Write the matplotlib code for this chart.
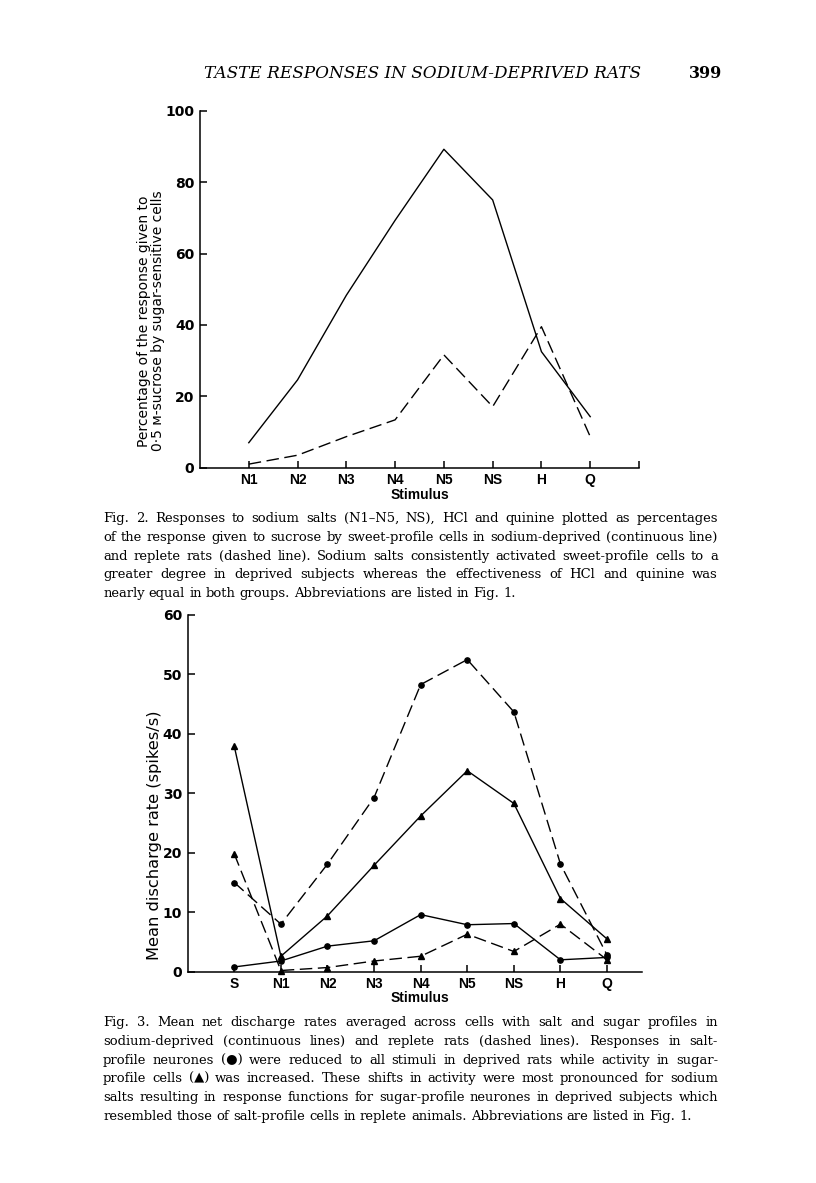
import matplotlib
matplotlib.use("Agg")
import matplotlib.pyplot as plt

# Fig. 2 values (percent of sucrose response, sweet-profile cells)
fig2_stimuli = ["N1", "N2", "N3", "N4", "N5", "NS", "H", "Q"]
fig2_deprived = [7.0, 24.6, 48.3, 69.3, 89.2, 75.0, 32.5, 14.3]
fig2_replete = [1.0, 3.5, 8.7, 13.4, 31.6, 17.1, 39.5, 8.7]

# Fig. 3 values (mean discharge rate, spikes/s)
fig3_stimuli = ["S", "N1", "N2", "N3", "N4", "N5", "NS", "H", "Q"]
salt_deprived = [0.8, 1.8, 4.3, 5.2, 9.6, 7.9, 8.1, 2.0, 2.4]
salt_replete = [15.0, 8.0, 18.1, 29.3, 48.3, 52.5, 43.7, 18.1, 2.8]
sugar_deprived = [37.9, 2.6, 9.4, 17.9, 26.2, 33.8, 28.3, 12.3, 5.5]
sugar_replete = [19.8, 0.2, 0.7, 1.8, 2.6, 6.3, 3.4, 8.0, 2.0]

header = "TASTE RESPONSES IN SODIUM-DEPRIVED RATS"
page_no = "399"

caption2 = [
    "Fig. 2. Responses to sodium salts (N1\u2013N5, NS), HCl and quinine plotted as percentages",
    "of the response given to sucrose by sweet-profile cells in sodium-deprived (continuous line)",
    "and replete rats (dashed line). Sodium salts consistently activated sweet-profile cells to a",
    "greater degree in deprived subjects whereas the effectiveness of HCl and quinine was",
    "nearly equal in both groups. Abbreviations are listed in Fig. 1.",
]
caption3 = [
    "Fig. 3. Mean net discharge rates averaged across cells with salt and sugar profiles in",
    "sodium-deprived (continuous lines) and replete rats (dashed lines). Responses in salt-",
    "profile neurones (\u25cf) were reduced to all stimuli in deprived rats while activity in sugar-",
    "profile cells (\u25b2) was increased. These shifts in activity were most pronounced for sodium",
    "salts resulting in response functions for sugar-profile neurones in deprived subjects which",
    "resembled those of salt-profile cells in replete animals. Abbreviations are listed in Fig. 1.",
]

W, H = 816, 1183
SANS = ["Liberation Sans", "DejaVu Sans"]
WIDE = ["DejaVu Sans"]
SERIF = ["DejaVu Serif"]
DASH = (0, (9, 4))

fig = plt.figure(figsize=(W / 100, H / 100), dpi=100)
fig.patch.set_facecolor("white")
renderer = fig.canvas.get_renderer()


def px_axes(left, top, right, bottom):
    return fig.add_axes([left / W, 1 - bottom / H, (right - left) / W, (bottom - top) / H])


def text_len(t):
    bb = t.get_window_extent(renderer)
    return max(bb.width, bb.height)


def fit(t, target):
    # rescale font so the text's long side spans target pixels
    t.set_fontsize(t.get_fontsize() * target / text_len(t))
    return t


def style_axes(ax):
    for s in ("top", "right"):
        ax.spines[s].set_visible(False)
    for s in ("left", "bottom"):
        ax.spines[s].set_linewidth(1.1)
    ax.tick_params(direction="in", length=5, width=1.1, pad=4, colors="black")
    for lab in ax.get_xticklabels():
        lab.set_fontfamily(SANS)
        lab.set_fontsize(10)
        lab.set_fontweight("bold")
    for lab in ax.get_yticklabels():
        lab.set_fontfamily(WIDE)
        lab.set_fontsize(10)
        lab.set_fontweight("bold")


def caption_size(lines, width, base=10):
    widest = 0
    for line in lines:
        t = fig.text(0, 0, line, fontsize=base, family=SERIF)
        widest = max(widest, t.get_window_extent(renderer).width)
        t.remove()
    return base * width / widest


def justified(lines, x0, x1, y0, step, size):
    a1 = fig.text(0, 0, "a a", fontsize=size, family=SERIF)
    a2 = fig.text(0, 0, "aa", fontsize=size, family=SERIF)
    space = a1.get_window_extent(renderer).width - a2.get_window_extent(renderer).width
    a1.remove()
    a2.remove()
    for i, line in enumerate(lines):
        y = 1 - (y0 + i * step) / H
        words = line.split(" ")
        texts = [fig.text(0, y, w, fontsize=size, family=SERIF, va="baseline") for w in words]
        widths = [t.get_window_extent(renderer).width for t in texts]
        if i < len(lines) - 1:
            gap = (x1 - x0 - sum(widths)) / (len(words) - 1)
        else:
            gap = space
        x = x0
        for t, w in zip(texts, widths):
            t.set_x(x / W)
            x += w + gap


# ---- Fig. 2 ----
ax2 = px_axes(200, 110.7, 639, 467.7)
x2 = list(range(1, len(fig2_stimuli) + 1))
ax2.plot(x2, fig2_deprived, color="black", lw=1.0, clip_on=False)
ax2.plot(x2, fig2_replete, color="black", lw=1.0, ls=DASH, clip_on=False)
ax2.set_xlim(0, 9)
ax2.set_ylim(0, 100)
ax2.set_xticks(x2 + [9])
ax2.set_xticklabels(fig2_stimuli + [""])
ax2.set_yticks([0, 20, 40, 60, 80, 100])
style_axes(ax2)
fig.text(420 / W, 1 - 495 / H, "Stimulus", ha="center", va="center",
         fontsize=10, family=SANS, fontweight="bold")
lab2 = fig.text(151 / W, 1 - 321 / H,
                "Percentage of the response given to\n0\u00b75 \u1d0d-sucrose by sugar-sensitive cells",
                rotation=90, ha="center", va="center", ma="center", linespacing=0.95,
                fontsize=9, family=WIDE)
fit(lab2, 262)

# ---- Fig. 3 ----
ax3 = px_axes(187.7, 615, 642, 971.7)
x3 = list(range(1, len(fig3_stimuli) + 1))
ms = 3.8
ax3.plot(x3, salt_replete, color="black", lw=1.0, ls=DASH, marker="o", ms=ms, clip_on=False)
ax3.plot(x3, sugar_replete, color="black", lw=1.0, ls=DASH, marker="^", ms=ms, clip_on=False)
ax3.plot(x3, sugar_deprived, color="black", lw=1.0, marker="^", ms=ms, clip_on=False)
ax3.plot(x3, salt_deprived, color="black", lw=1.0, marker="o", ms=ms, clip_on=False)
ax3.set_xlim(0, 9.75)
ax3.set_ylim(0, 60)
ax3.set_xticks(x3)
ax3.set_xticklabels(fig3_stimuli)
ax3.set_yticks([0, 10, 20, 30, 40, 50, 60])
style_axes(ax3)
fig.text(420 / W, 1 - 998 / H, "Stimulus", ha="center", va="center",
         fontsize=10, family=SANS, fontweight="bold")
lab3 = fig.text(155 / W, 1 - 835 / H, "Mean discharge rate (spikes/s)",
                rotation=90, ha="center", va="center", fontsize=9.5, family=WIDE)
fit(lab3, 252)

# ---- page text ----
head = fig.text(422 / W, 1 - 73 / H, header, ha="center", va="center",
                fontsize=11, family=SERIF, style="italic")
fit(head, 435)
fig.text(722 / W, 1 - 73 / H, page_no, ha="right", va="center",
         fontsize=11.5, family=SERIF, fontweight="bold")

cap_size = min(caption_size(caption2[:-1], 612), caption_size(caption3[:-1], 612))
justified(caption2, 103, 718, 522, 18.8, cap_size)
justified(caption3, 103, 718, 1026, 18.8, cap_size)

fig.savefig("out.png", dpi=100, facecolor="white")
